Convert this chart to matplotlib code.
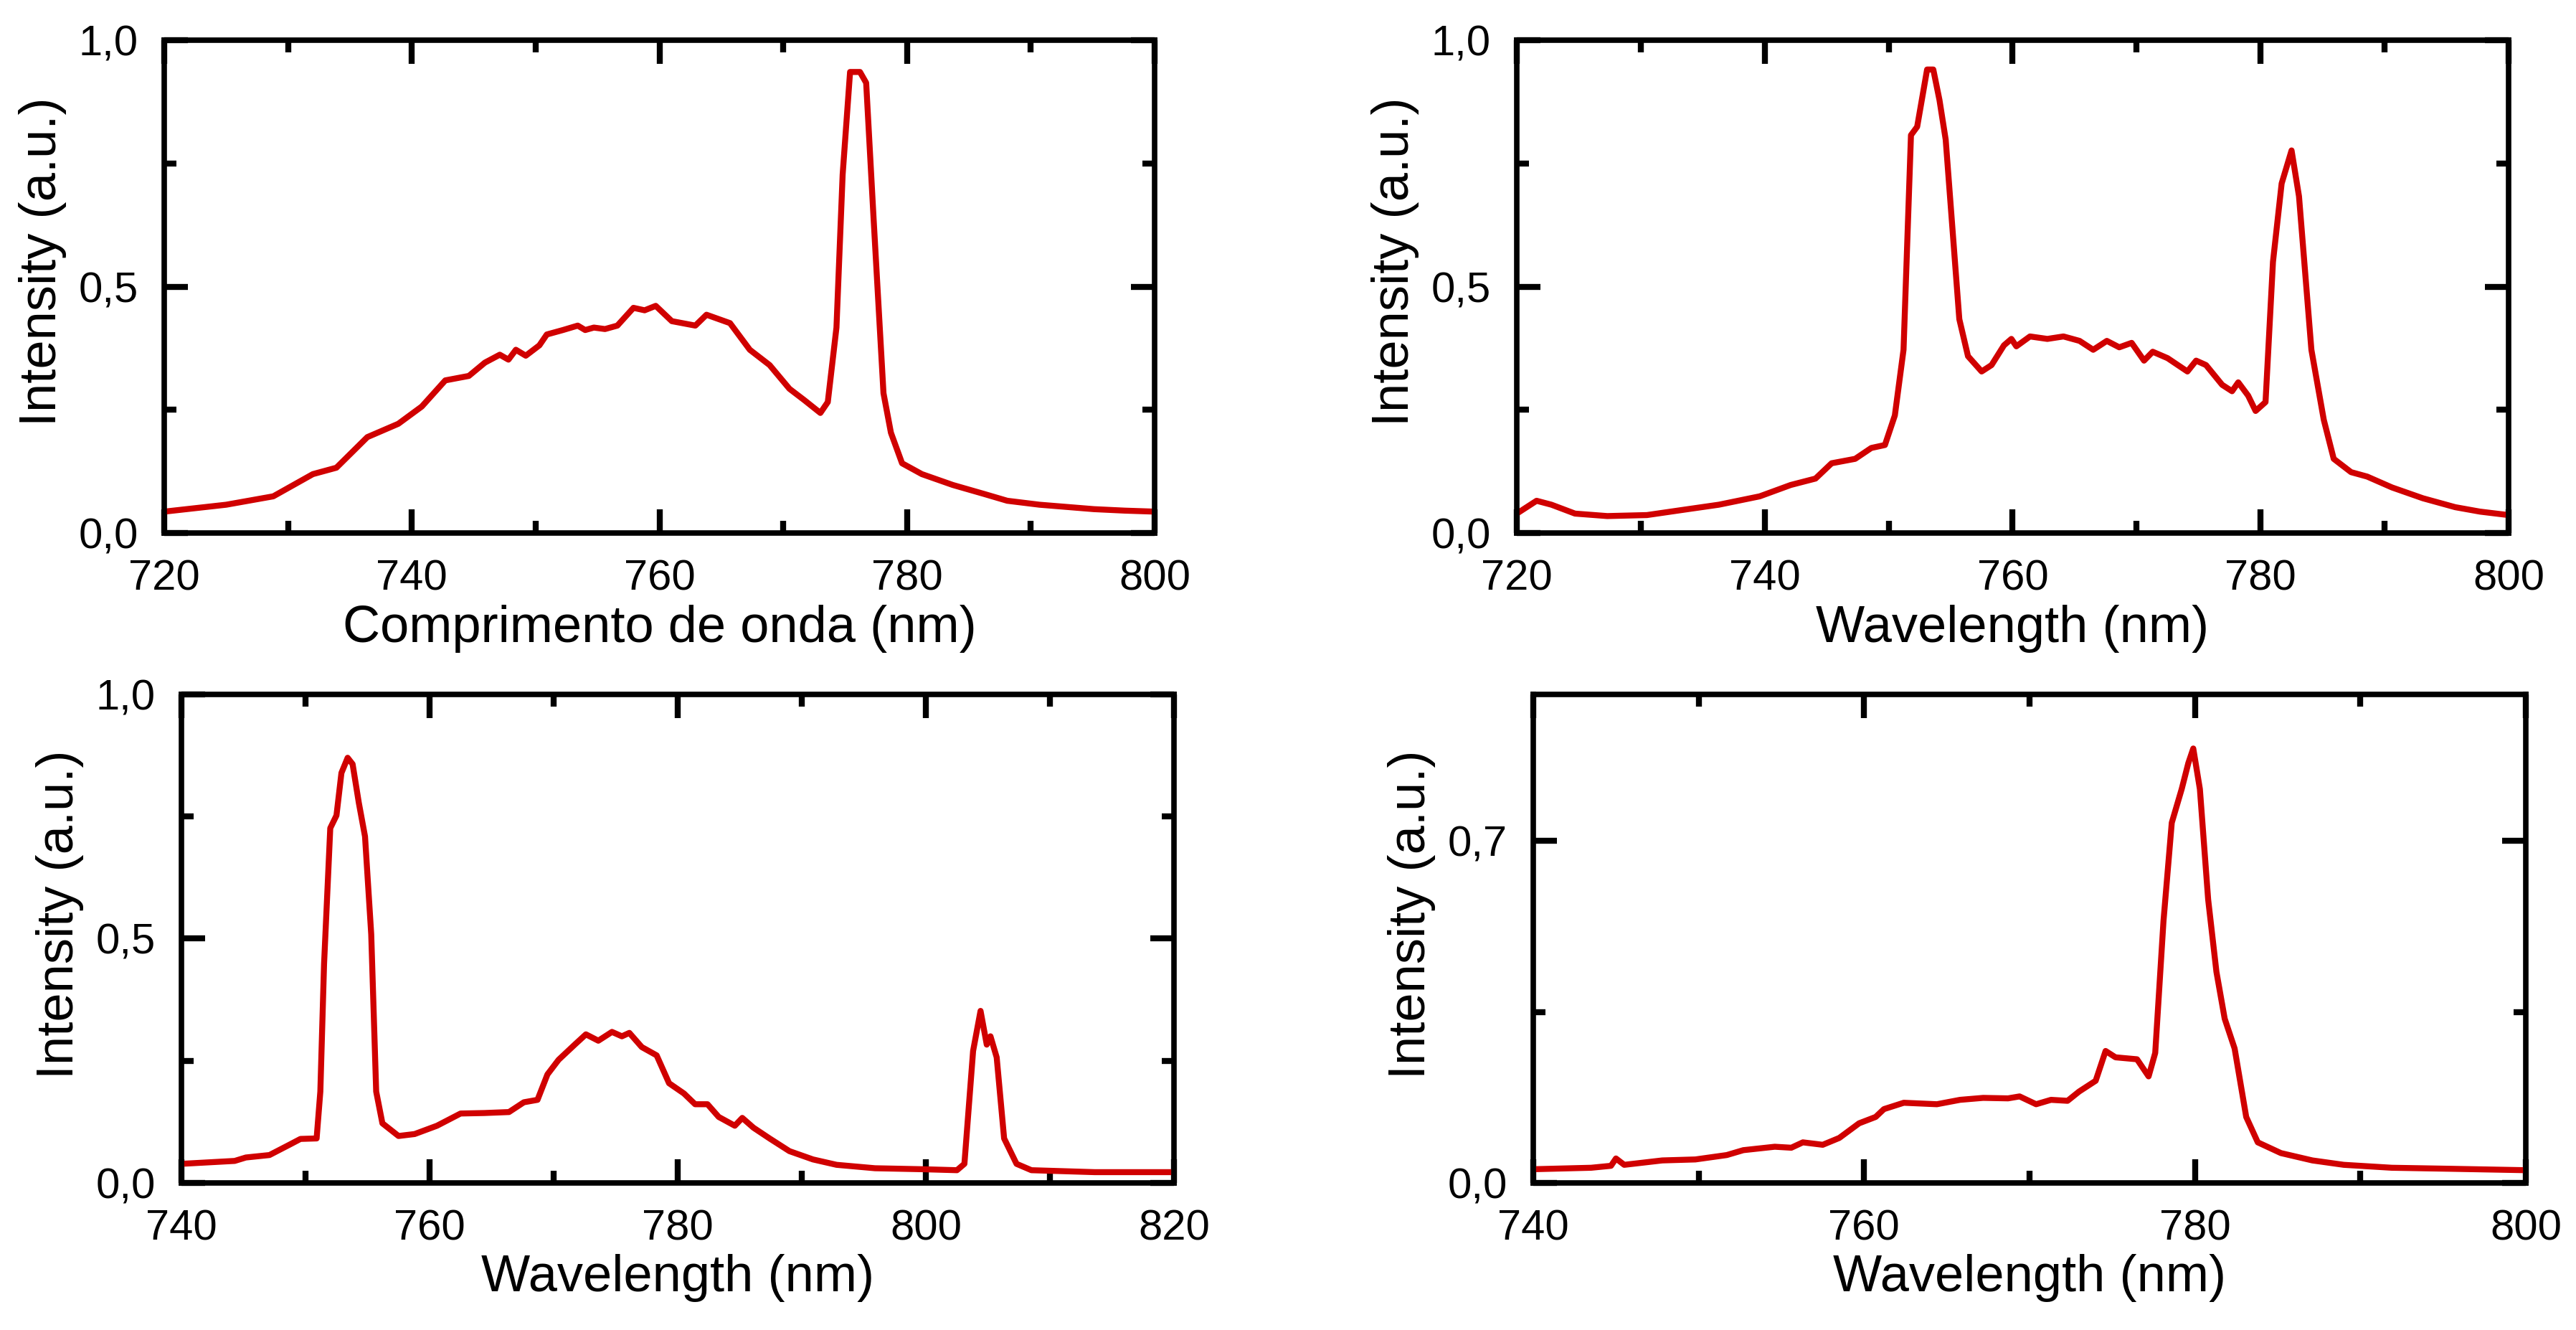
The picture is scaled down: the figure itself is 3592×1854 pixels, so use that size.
import numpy as np
import matplotlib
matplotlib.use("Agg")
from matplotlib import pyplot as plt
from matplotlib.ticker import MultipleLocator, FuncFormatter

# spectra (wavelength in nm, intensity in a.u.)
wl_a  = [720, 725.0, 728.8, 732.0, 733.9, 736.4, 738.9, 740.8, 742.7, 744.6, 745.9, 747.1,
         747.8, 748.4, 749.2, 750.3, 750.9, 752.2, 753.4, 754.0, 754.7, 755.6, 756.6, 757.9,
         758.8, 759.7, 761.0, 762.9, 763.8, 765.7, 767.3, 768.9, 770.5, 771.7, 773.0, 773.6,
         774.3, 774.8, 775.4, 776.2, 776.7, 777.3, 778.1, 778.7, 779.6, 781.2, 783.7, 786.2,
         788.1, 790.7, 795.1, 797.6, 800]
int_a = [0.044, 0.058, 0.075, 0.12, 0.133, 0.195, 0.222, 0.257, 0.31, 0.319, 0.346, 0.362,
         0.352, 0.372, 0.360, 0.381, 0.403, 0.412, 0.421, 0.412, 0.417, 0.414, 0.421, 0.457,
         0.452, 0.461, 0.43, 0.421, 0.443, 0.426, 0.372, 0.341, 0.293, 0.27, 0.244, 0.266,
         0.417, 0.727, 0.935, 0.935, 0.913, 0.638, 0.284, 0.204, 0.142, 0.12, 0.098, 0.08,
         0.066, 0.058, 0.049, 0.046, 0.044]

wl_b  = [720, 721.6, 722.8, 724.7, 727.3, 730.5, 733.8, 736.3, 739.6, 742.1, 744.1, 745.4,
         747.3, 748.6, 749.7, 750.5, 751.2, 751.8, 752.3, 753.1, 753.6, 754.1, 754.6, 755.7,
         756.4, 757.5, 758.3, 759.3, 759.9, 760.3, 761.4, 762.8, 764.1, 765.4, 766.5, 767.6,
         768.6, 769.6, 770.6, 771.3, 772.5, 774.1, 774.8, 775.6, 776.9, 777.7, 778.2, 779.0,
         779.6, 780.4, 781.0, 781.7, 782.5, 783.1, 784.1, 785.1, 785.9, 787.3, 788.6, 790.6,
         793.1, 795.7, 797.7, 800]
int_b = [0.04, 0.066, 0.058, 0.04, 0.035, 0.037, 0.049, 0.058, 0.075, 0.098, 0.111, 0.142,
         0.151, 0.173, 0.179, 0.239, 0.372, 0.807, 0.824, 0.94, 0.94, 0.878, 0.798, 0.434,
         0.359, 0.328, 0.341, 0.381, 0.394, 0.379, 0.399, 0.394, 0.399, 0.39, 0.372, 0.39,
         0.377, 0.386, 0.35, 0.368, 0.355, 0.328, 0.35, 0.341, 0.301, 0.288, 0.306, 0.279,
         0.248, 0.266, 0.55, 0.709, 0.776, 0.683, 0.372, 0.23, 0.151, 0.124, 0.115, 0.093,
         0.071, 0.053, 0.044, 0.037]

wl_c  = [740, 744.3, 745.2, 747.1, 748.7, 749.6, 750.9, 751.2, 751.5, 752.0, 752.5, 752.9,
         753.4, 753.8, 754.3, 754.8, 755.3, 755.7, 756.2, 757.5, 758.8, 760.6, 762.5, 764.4,
         766.4, 767.6, 768.7, 769.5, 770.4, 771.7, 772.6, 773.6, 774.7, 775.5, 776.1, 777.1,
         778.3, 779.3, 780.5, 781.4, 782.4, 783.3, 784.6, 785.2, 786.1, 787.4, 789.0, 790.9,
         792.8, 795.9, 799.7, 802.5, 803.1, 803.8, 804.4, 804.9, 805.2, 805.7, 806.3, 807.3,
         808.5, 813.6, 820]
int_c = [0.039, 0.045, 0.052, 0.057, 0.078, 0.09, 0.091, 0.187, 0.448, 0.726, 0.752, 0.839,
         0.87, 0.857, 0.778, 0.709, 0.509, 0.187, 0.122, 0.096, 0.1, 0.117, 0.142, 0.143,
         0.145, 0.165, 0.17, 0.222, 0.252, 0.283, 0.304, 0.291, 0.309, 0.3, 0.307, 0.278,
         0.261, 0.204, 0.183, 0.161, 0.161, 0.135, 0.117, 0.133, 0.113, 0.091, 0.065, 0.048,
         0.037, 0.03, 0.028, 0.026, 0.039, 0.27, 0.352, 0.283, 0.3, 0.257, 0.091, 0.039,
         0.026, 0.022, 0.022]

wl_d  = [740, 743.5, 744.7, 745.0, 745.5, 747.8, 749.8, 751.7, 752.7, 754.6, 755.6, 756.3,
         757.5, 758.5, 759.7, 760.7, 761.2, 762.4, 764.4, 765.8, 767.2, 768.7, 769.4, 770.4,
         771.3, 772.3, 773.0, 774.0, 774.6, 775.2, 776.5, 777.2, 777.6, 778.1, 778.6, 779.2,
         779.6, 779.9, 780.3, 780.8, 781.3, 781.8, 782.4, 783.1, 783.8, 785.2, 787.1, 789.0,
         791.9, 795.3, 800]
int_d = [0.028, 0.031, 0.035, 0.05, 0.037, 0.046, 0.048, 0.057, 0.067, 0.074, 0.072, 0.083,
         0.078, 0.092, 0.122, 0.135, 0.151, 0.164, 0.161, 0.17, 0.174, 0.173, 0.177, 0.161,
         0.17, 0.168, 0.187, 0.209, 0.27, 0.257, 0.253, 0.218, 0.266, 0.536, 0.737, 0.806,
         0.859, 0.889, 0.806, 0.58, 0.432, 0.336, 0.275, 0.135, 0.083, 0.061, 0.046, 0.037,
         0.031, 0.029, 0.026]

xlabels = ["Comprimento de onda (nm)", "Wavelength (nm)", "Wavelength (nm)", "Wavelength (nm)"]
xlims   = [(720, 800), (720, 800), (740, 820), (740, 800)]
ymajor  = [0.5, 0.5, 0.5, 0.7]
ylabel  = "Intensity (a.u.)"

plt.rcParams["font.family"] = ["Liberation Sans", "DejaVu Sans"]
red = "#d00000"

fig = plt.figure(figsize=(35.92, 18.54), dpi=100)
boxes = [[0.0638, 0.599, 0.3844, 0.371],
         [0.5888, 0.599, 0.3850, 0.371],
         [0.0704, 0.1106, 0.3854, 0.3674],
         [0.5952, 0.1106, 0.3853, 0.3674]]
data = [(wl_a, int_a), (wl_b, int_b), (wl_c, int_c), (wl_d, int_d)]

comma = FuncFormatter(lambda v, p: ("%.1f" % v).replace(".", ","))

for i in range(4):
    ax = fig.add_axes(boxes[i])
    x, y = data[i]
    ax.plot(x, y, color=red, lw=6, solid_joinstyle="round")
    ax.set_xlim(*xlims[i])
    ax.set_ylim(0, 1.0)
    ax.xaxis.set_major_locator(MultipleLocator(20))
    ax.xaxis.set_minor_locator(MultipleLocator(10))
    ax.yaxis.set_major_locator(MultipleLocator(ymajor[i]))
    ax.yaxis.set_minor_locator(MultipleLocator(ymajor[i] / 2))
    ax.yaxis.set_major_formatter(comma)
    ax.tick_params(which="both", direction="in", top=True, right=True, width=6)
    ax.tick_params(which="major", length=24, labelsize=43, pad=26)
    ax.tick_params(which="minor", length=12)
    for s in ax.spines.values():
        s.set_linewidth(5.5)
    ax.set_xlabel(xlabels[i], fontsize=52, labelpad=6)
    ax.set_ylabel(ylabel, fontsize=52, labelpad=12)
    ax.yaxis.label.set_y(0.55)

fig.savefig("out.png", dpi=100)
